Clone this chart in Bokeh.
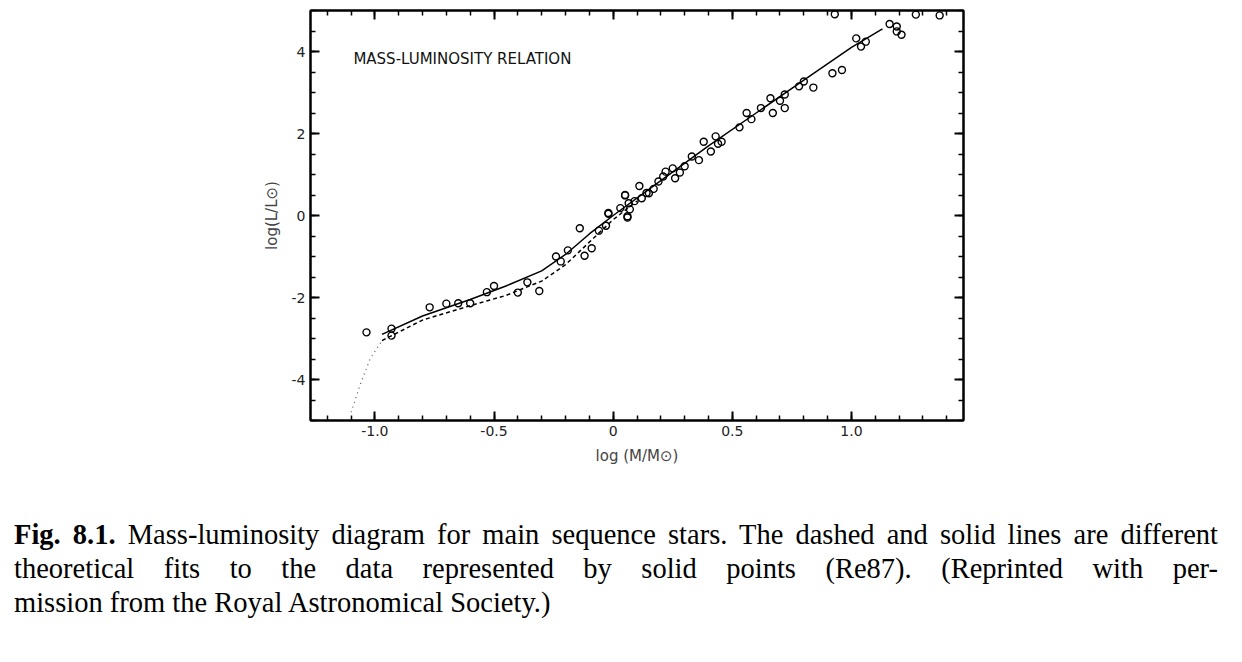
from bokeh.plotting import figure
from bokeh.models import LinearAxis, Range1d, Label, Div, FixedTicker
from bokeh.layouts import column
from bokeh.embed import file_html
from bokeh.resources import INLINE

log_m = [-1.035,-0.93,-0.93,-0.77,-0.70,-0.65,-0.60,-0.53,-0.50,-0.40,-0.36,-0.31,-0.24,-0.22,-0.19,-0.14,-0.12,-0.09,
         -0.06,-0.03,-0.02,0.03,0.05,0.06,0.07,-0.02,0.05,0.065,0.06,0.11,0.12,0.15,0.19,0.22,0.25,0.26,0.30,0.33,0.38,
         0.41,0.43,0.455,0.53,0.56,0.62,0.66,0.67,0.72,0.72,0.78,0.80,0.84,0.92,0.96,1.02,1.04,1.06,1.16,1.19,1.19,1.21,
         0.93,1.27,1.37,0.09,0.14,0.17,0.21,0.28,0.36,0.44,0.58,0.70]
log_l = [-2.85,-2.76,-2.93,-2.24,-2.15,-2.14,-2.14,-1.87,-1.72,-1.88,-1.63,-1.84,-1.0,-1.12,-0.85,-0.31,-0.98,-0.80,
         -0.37,-0.25,0.04,0.18,0.49,-0.05,0.15,0.06,0.50,0.30,-0.02,0.72,0.42,0.54,0.83,1.07,1.15,0.91,1.20,1.44,1.80,
         1.56,1.93,1.80,2.15,2.50,2.62,2.86,2.50,2.62,2.95,3.15,3.27,3.12,3.47,3.55,4.32,4.12,4.24,4.67,4.61,4.49,4.41,
         4.91,4.90,4.88,0.35,0.55,0.65,0.95,1.05,1.35,1.75,2.35,2.80]

solid_x = [-0.97,-0.8,-0.6,-0.45,-0.3,-0.2,-0.1,0.0,0.2,0.4,0.6,0.8,1.0,1.13]
solid_y = [-2.9,-2.45,-2.05,-1.72,-1.35,-0.95,-0.45,0.0,0.85,1.7,2.5,3.3,4.1,4.55]
dash_x = [-0.97,-0.8,-0.6,-0.45,-0.3,-0.2,-0.1,0.0,0.1]
dash_y = [-3.05,-2.55,-2.2,-1.95,-1.6,-1.2,-0.65,-0.1,0.35]
dot_x = [-1.1,-1.06,-1.02,-0.97]
dot_y = [-4.8,-4.1,-3.5,-3.05]

x_ticks = [-1.0,-0.5,0,0.5,1.0,1.5]
x_tick_labels = {-1.0:"-1.0",-0.5:"-0.5",0:"0",0.5:"0.5",1.0:"1.0",1.5:"1.5"}
y_ticks = [-4,-2,0,2,4]
y_tick_labels = {-4:"-4",-2:"-2",0:"0",2:"2",4:"4"}

p = figure(width=1000, height=492, output_backend="svg", toolbar_location=None,
           x_range=Range1d(-1.27, 1.47), y_range=Range1d(-5.0, 5.0),
           min_border_left=310, min_border_right=37, min_border_top=10, min_border_bottom=72)
p.grid.visible = False
p.outline_line_color = "black"
p.outline_line_width = 2

def style(ax):
    ax.axis_line_width = 2
    ax.major_tick_in = 9
    ax.major_tick_out = 0
    ax.minor_tick_in = 5
    ax.minor_tick_out = 0
    ax.major_tick_line_width = 2
    ax.minor_tick_line_width = 1.5
    ax.major_label_text_font = "DejaVu Sans"
    ax.major_label_text_font_size = "14px"
    ax.major_label_text_color = "#222"

p.xaxis.ticker = FixedTicker(ticks=x_ticks, minor_ticks=[i/10 for i in range(-12, 15)])
p.xaxis.major_label_overrides = x_tick_labels
p.yaxis.ticker = FixedTicker(ticks=y_ticks, minor_ticks=[i/2 for i in range(-10, 11)])
p.yaxis.major_label_overrides = y_tick_labels
style(p.xaxis[0])
style(p.yaxis[0])
p.xaxis.axis_label = "log (M/M\u2299)"
p.yaxis.axis_label = "log(L/L\u2299)"
for ax in (p.xaxis[0], p.yaxis[0]):
    ax.axis_label_text_font = "DejaVu Sans"
    ax.axis_label_text_font_style = "normal"
    ax.axis_label_text_font_size = "15px"
    ax.axis_label_standoff = 8

top = LinearAxis(ticker=FixedTicker(ticks=x_ticks, minor_ticks=[i/10 for i in range(-12, 15)]))
right = LinearAxis(ticker=FixedTicker(ticks=y_ticks, minor_ticks=[i/2 for i in range(-10, 11)]))
for ax in (top, right):
    style(ax)
    ax.major_label_text_alpha = 0
    ax.major_label_standoff = 0
p.add_layout(top, "above")
p.add_layout(right, "right")

p.line(solid_x, solid_y, line_color="black", line_width=1.5)
p.line(dash_x, dash_y, line_color="black", line_width=1.5, line_dash="4 3")
p.line(dot_x, dot_y, line_color="#555", line_width=1.2, line_dash="1 4")
p.scatter(log_m, log_l, marker="circle", size=7, fill_color=None, line_color="black", line_width=1.4)

p.add_layout(Label(x=-1.09, y=3.6, text="MASS-LUMINOSITY RELATION", text_font="DejaVu Sans",
                   text_font_size="15px", text_color="#111"))

cap = Div(width=1204, styles={"font-family": "'Liberation Serif', serif", "font-size": "28.5px",
                             "line-height": "34px", "margin-left": "14px", "margin-top": "26px",
                             "text-align": "justify"},
          text="<div style='text-align:justify;text-align-last:justify'><b>Fig. 8.1.</b> Mass-luminosity diagram for main sequence stars. The dashed and solid lines are "
               "different theoretical fits to the data represented by solid points (Re87). (Reprinted with per-</div>"
               "<div>mission from the Royal Astronomical Society.)</div>")

open("out.html", "w").write(file_html(column(p, cap), INLINE))
